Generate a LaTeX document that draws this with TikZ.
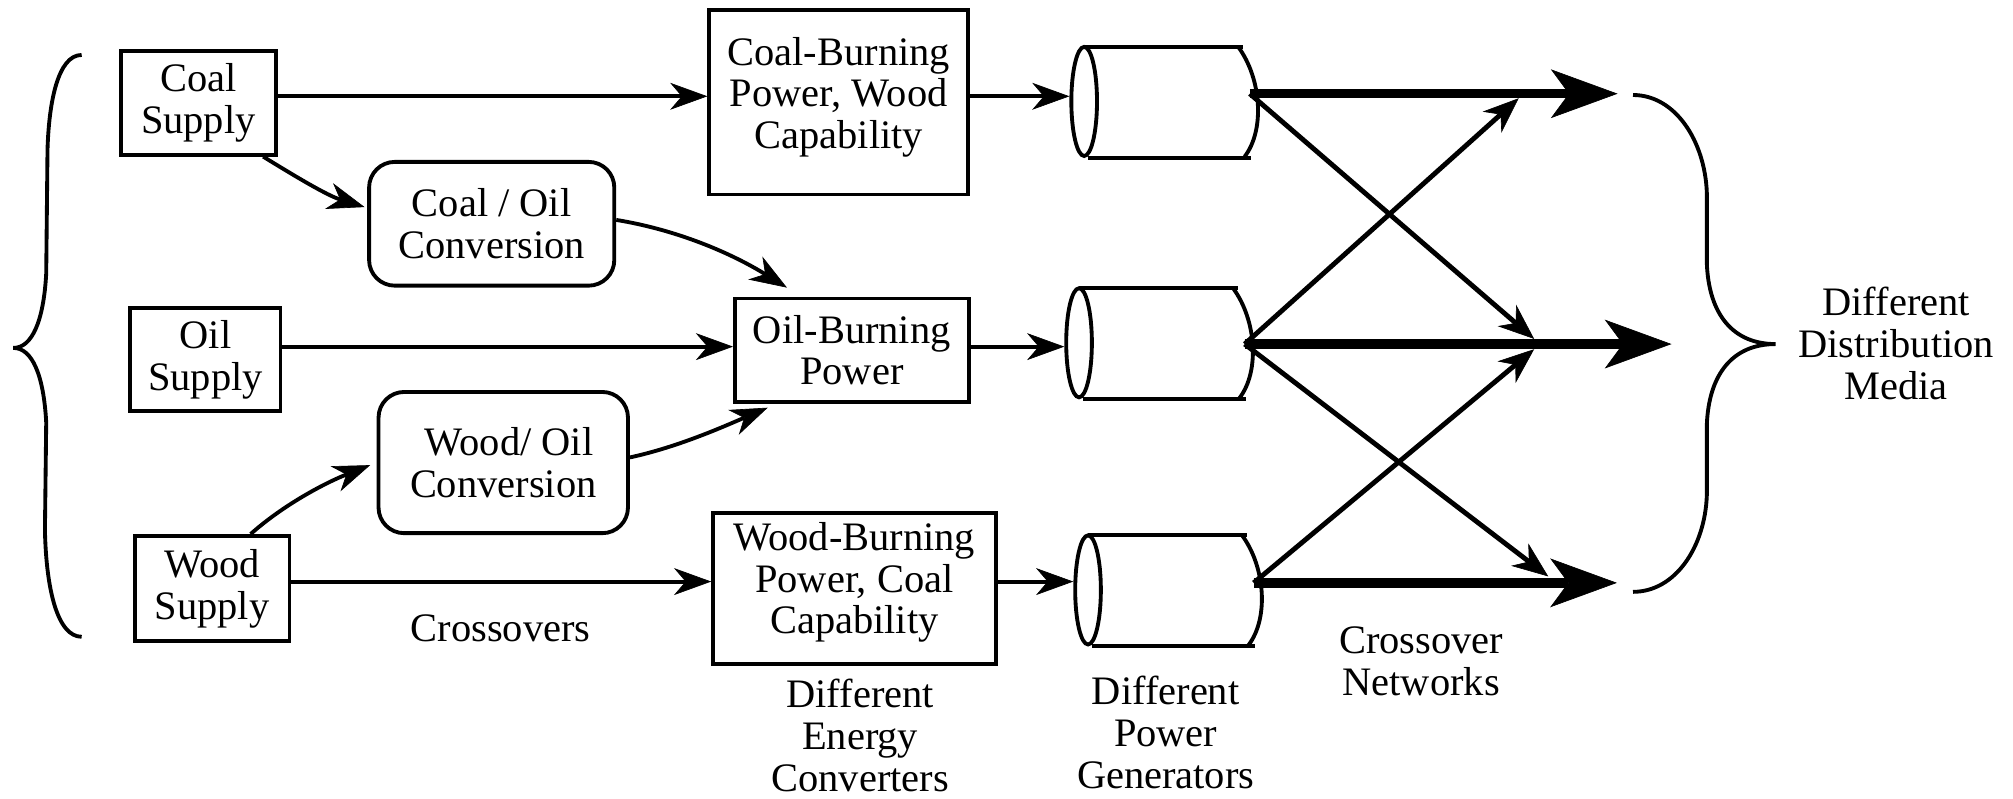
\documentclass[tikz,border=0pt]{standalone}
\usepackage{fontspec}
\setmainfont{Liberation Serif}
\usetikzlibrary{arrows.meta,shapes.geometric,calc}

\tikzset{
  % power generator drawn as a cylinder lying on its side
  pics/gen/.style={code={
    \node[ellipse, draw, line width=3pt, minimum width=20pt, minimum height=85pt, inner sep=0pt] (-e) at (0,0) {};
    \draw[line width=3pt] (0,-42.5) -- (124,-42.5);
    \draw[line width=3pt] (120,-42.5) .. controls (138,-18) and (141,22) .. (125,43);
    \draw[line width=3pt] (3,44) -- (130,44);
    \coordinate (-o) at (129,#1);
  }}
}

\begin{document}
\begin{tikzpicture}[x=1pt, y=-1pt,
  font=\fontsize{31.5pt}{32.5pt}\selectfont,
  box/.style={draw, line width=3pt, inner sep=0pt, align=center},
  rbox/.style={box, rounded corners=20pt},
  caption/.style={align=center, inner sep=0pt},
  conn/.style={line width=3pt, -{Stealth[length=29pt, width=21pt, inset=9pt, line width=0.5pt]}},
  xconn/.style={line width=3.8pt, -{Stealth[length=28pt, width=22pt, inset=9pt, line width=0.5pt]}},
  tconn/.style={line width=7.3pt, -{Stealth[length=52pt, width=38pt, inset=14pt, line width=0.5pt]}},
  brace/.style={line width=3pt},
]
\useasboundingbox (0,0) rectangle (1568,622);

% supplies
\node[box, minimum width=120.7pt, minimum height=81pt] (coal) at (154.5,80) {Coal\\Supply};
\node[box, minimum width=117pt, minimum height=80pt] (oil) at (160,280) {Oil\\Supply};
\node[box, minimum width=120.6pt, minimum height=82pt] (wood) at (165.2,458.5) {Wood\\Supply};

% conversions
\node[rbox, minimum width=191pt, minimum height=96.4pt] (co) at (383,174.3) {Coal / Oil\\Conversion};
\node[rbox, minimum width=194.3pt, minimum height=110pt] (wo) at (392,360.3) {\hspace*{9pt}Wood/ Oil\\Conversion};

% energy converters
\node[box, minimum width=201.6pt, minimum height=143.5pt, text depth=14.8pt] (cb) at (653.3,79.8) {Coal-Burning\\Power, Wood\\Capability};
\node[box, minimum width=182pt, minimum height=80.5pt] (ob) at (663.5,272.8) {Oil-Burning\\Power};
\node[box, minimum width=220pt, minimum height=118pt, text depth=16.4pt] (wb) at (665.5,458.5) {Wood-Burning\\Power, Coal\\Capability};

% power generators
\pic (c1) at (844.5,79) {gen=-6};
\pic (c2) at (840.5,267) {gen=1};
\pic (c3) at (847.5,459.5) {gen=-5.5};

% captions
\node[caption] (crossovers) at (390,489.5) {Crossovers};
\node[caption] (energy) at (670,573) {Different\\Energy\\Converters};
\node[caption] (gens) at (908,570.5) {Different\\Power\\Generators};
\node[caption] (net) at (1107,515) {Crossover\\Networks};
\node[caption] (media) at (1477,267.5) {Different\\Distribution\\Media};

% straight feeds
\coordinate (rowA) at (0,75);
\coordinate (rowB) at (0,270);
\coordinate (rowC) at (0,453);
\draw[conn] (coal.east |- rowA) -- (cb.west |- rowA);
\draw[conn] (cb.east |- rowA) -- (c1-e.west |- rowA);
\draw[conn] (oil.east |- rowB) -- (ob.west |- rowB);
\draw[conn] (ob.east |- rowB) -- (c2-e.west |- rowB);
\draw[conn] (wood.east |- rowC) -- (wb.west |- rowC);
\draw[conn] (wb.east |- rowC) -- (c3-e.west |- rowC);

% curved feeds through the conversions
\coordinate (s1) at ($(coal.south)+(50.5,0)$);
\coordinate (e1) at ($(co.west)+(-2,-13)$);
\draw[conn] (s1) .. controls ($(s1)+(26,16)$) and ($(e1)+(-29,-9)$) .. (e1);
\coordinate (s2) at ($(co.east)+(0,-3)$);
\coordinate (e2) at ($(ob.north west)+(42,-7)$);
\draw[conn] (s2) .. controls ($(s2)+(49,8)$) and ($(e2)+(-42,-26)$) .. (e2);
\coordinate (s3) at ($(wood.north)+(30,0)$);
\coordinate (e3) at ($(wo.west)+(-5,2)$);
\draw[conn] (s3) .. controls ($(s3)+(27,-24)$) and ($(e3)+(-33,13)$) .. (e3);
\coordinate (s4) at ($(wo.east)+(0,-4)$);
\coordinate (e4) at ($(ob.south west)+(27,3)$);
\draw[conn] (s4) .. controls ($(s4)+(37,-8)$) and ($(e4)+(-35,15)$) .. (e4);

% crossover network
\coordinate (t1) at (1260,73);
\coordinate (t2) at (1302,268);
\coordinate (t3) at (1259.5,454);
\coordinate (x1) at (1183,76.5);
\coordinate (x2a) at (1195,264);
\coordinate (x2b) at (1195,272);
\coordinate (x3) at (1206,449);
\draw[xconn] (c1-o) -- (x2a);
\draw[xconn] (c2-o) -- (x1);
\draw[xconn] (c2-o) -- (x3);
\draw[xconn] (c3-o) -- (x2b);
\draw[tconn] (c1-o) -- (t1);
\draw[tconn] (c2-o) -- (t2);
\draw[tconn] (c3-o) -- (t3);

% braces
\draw[brace] (63.6,42.8) .. controls (45,42.8) and (38,80) .. (37,117)
  -- (36,213) .. controls (34,250) and (25,271) .. (10.4,271)
  .. controls (25,271) and (34,292) .. (36,329)
  -- (35,413) .. controls (36,460) and (45,496) .. (63.6,496);
\draw[brace] (1272,74) .. controls (1305,74) and (1328,110) .. (1329.5,150)
  -- (1329.5,205) .. controls (1331,245) and (1350,268) .. (1383,268)
  .. controls (1350,268) and (1331,291) .. (1329.5,331)
  -- (1329.5,386) .. controls (1328,426) and (1305,461) .. (1272,461);
\end{tikzpicture}
\end{document}
